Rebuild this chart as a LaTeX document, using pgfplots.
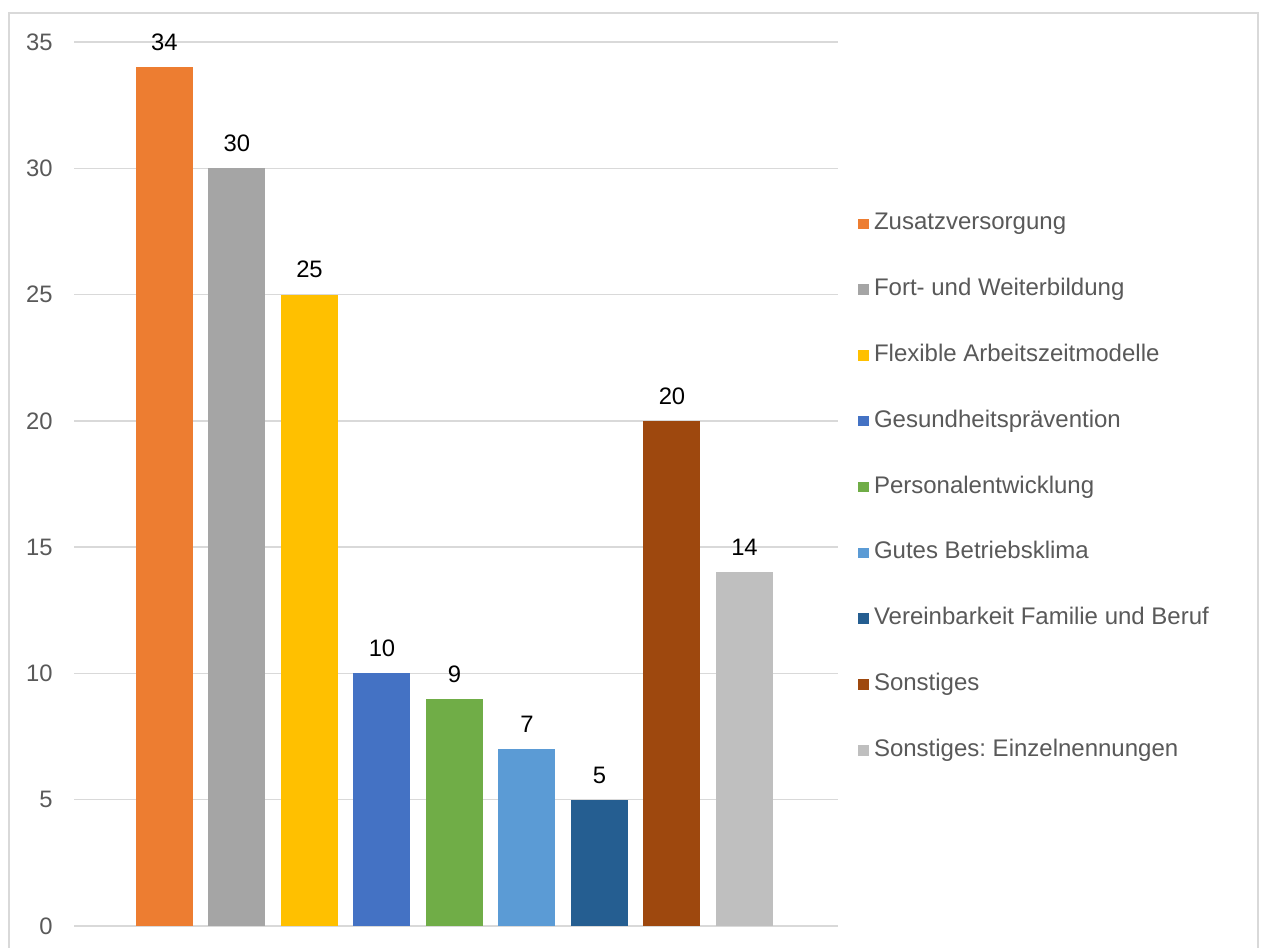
\documentclass[border=0pt]{standalone}
\usepackage{pgfplots}
\pgfplotsset{compat=1.18}
\usepackage{fontspec}
\setmainfont{Liberation Sans}
\definecolor{c1}{HTML}{ED7D31}
\definecolor{c2}{HTML}{A5A5A5}
\definecolor{c3}{HTML}{FFC000}
\definecolor{c4}{HTML}{4472C4}
\definecolor{c5}{HTML}{70AD47}
\definecolor{c6}{HTML}{5B9BD5}
\definecolor{c7}{HTML}{255E91}
\definecolor{c8}{HTML}{9E480E}
\definecolor{c9}{HTML}{BFBFBF}
\definecolor{txt}{HTML}{595959}
\definecolor{grid}{HTML}{D9D9D9}
\begin{document}
\frenchspacing
\begin{tikzpicture}
\useasboundingbox (-37pt,-10.5pt) rectangle (594pt,463pt);
\begin{axis}[
  at={(0,0)}, anchor=south west,
  scale only axis,
  width=382pt, height=442pt,
  ymin=0, ymax=35, ytick={0,5,...,35},
  xmin=-1.248, xmax=9.29,
  xtick=\empty,
  ybar, bar width=28.5pt, bar shift=0pt,
  axis line style={draw=none},
  major tick length=0pt,
  ymajorgrids, major grid style={draw=grid, line width=0.7pt},
  tick label style={font=\fontsize{11.9}{14}\selectfont, text=txt},
  yticklabel style={anchor=east, inner sep=0pt, xshift=-10.5pt},
  /pgf/number format/assume math mode=true,
  nodes near coords,
  every node near coord/.append style={font=\fontsize{11.9}{14}\selectfont, text=black, anchor=south, inner sep=0pt, yshift=8pt},
  legend style={at={(1.0262,0.806)}, anchor=north west, draw=none, inner sep=0pt,
    row sep=22.9pt, font=\fontsize{12}{14}\selectfont, text=txt,
    nodes={inner sep=0pt, text height=8pt, text depth=2pt},
    /tikz/every odd column/.style={column sep=2.3pt}},
  legend cell align=left,
  legend image code/.code={\fill[#1,draw=none] (0pt,-2.6pt) rectangle (5.5pt,2.6pt);},
]
\addplot[fill=c1,draw=none] coordinates {(0,34)};
\addplot[fill=c2,draw=none] coordinates {(1,30)};
\addplot[fill=c3,draw=none] coordinates {(2,25)};
\addplot[fill=c4,draw=none] coordinates {(3,10)};
\addplot[fill=c5,draw=none] coordinates {(4,9)};
\addplot[fill=c6,draw=none] coordinates {(5,7)};
\addplot[fill=c7,draw=none] coordinates {(6,5)};
\addplot[fill=c8,draw=none] coordinates {(7,20)};
\addplot[fill=c9,draw=none] coordinates {(8,14)};
\legend{Zusatzversorgung, Fort- und Weiterbildung, Flexible Arbeitszeitmodelle, Gesundheitsprävention, Personalentwicklung, Gutes Betriebsklima, Vereinbarkeit Familie und Beruf, Sonstiges, Sonstiges: Einzelnennungen}
\end{axis}
\draw[grid, line width=0.75pt] (-32.5pt,-20pt) rectangle (592pt,456.5pt);
\end{tikzpicture}
\end{document}
